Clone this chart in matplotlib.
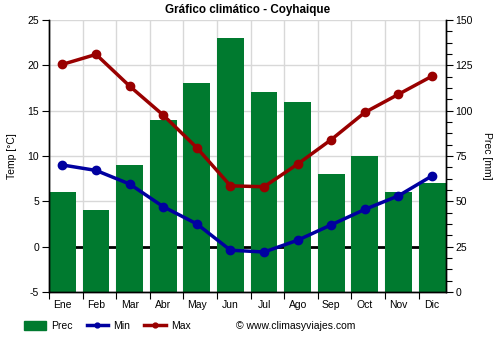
import numpy as np
import matplotlib.pyplot as plt
from matplotlib.ticker import AutoMinorLocator, FixedLocator, NullFormatter
from matplotlib.lines import Line2D
from matplotlib.patches import Patch

plt.rcParams['font.family'] = ['Liberation Sans', 'DejaVu Sans']
plt.rcParams['axes.unicode_minus'] = False

# Datos climáticos de Coyhaique
meses = ['Ene', 'Feb', 'Mar', 'Abr', 'May', 'Jun', 'Jul', 'Ago', 'Sep', 'Oct', 'Nov', 'Dic']
prec = [55, 45, 70, 95, 115, 140, 110, 105, 65, 75, 55, 60]
t_min = [9.0, 8.4, 6.9, 4.4, 2.5, -0.4, -0.6, 0.7, 2.4, 4.1, 5.6, 7.8]
t_max = [20.1, 21.2, 17.7, 14.5, 10.9, 6.7, 6.6, 9.1, 11.8, 14.8, 16.8, 18.8]

verde = '#007a2f'
azul = '#0000a0'
rojo = '#990000'

fig = plt.figure(figsize=(5, 3.5), dpi=100)
ax = fig.add_axes([0.098, 0.166, 0.793, 0.777])
ax2 = ax.twinx()

x = np.arange(len(meses))
centros = x + 0.4

# Eje izquierdo: temperatura (líneas) ; eje derecho: precipitación (barras)
ax2.set_zorder(1)
ax.set_zorder(2)
ax.patch.set_visible(False)

ax2.bar(x, prec, width=0.8, align='edge', color=verde, zorder=2)
ax2.set_ylim(0, 150)
ax2.set_yticks(np.arange(0, 151, 25))
ax2.yaxis.set_minor_locator(AutoMinorLocator(4))
ax2.set_ylabel('Prec [mm]', rotation=270, labelpad=14, fontsize=7.5)
ax2.tick_params(axis='y', labelsize=7.5, length=5, width=0.8, pad=2)
ax2.tick_params(axis='y', which='minor', length=4, width=0.8)

# grilla y línea de cero detrás de las barras
ax2.set_xlim(0, 11.8)
for t in np.arange(-5, 26, 5):
    ax2.axhline((t + 5) * 5, color='#d8d8d8', lw=1, zorder=0)
for xi in x:
    ax2.axvline(xi, color='#d8d8d8', lw=1, zorder=0)
ax2.axhline(25, color='black', lw=2, zorder=1)

ax.plot(centros, t_min, color=azul, lw=2.5, marker='o', ms=6, zorder=3)
ax.plot(centros, t_max, color=rojo, lw=2.5, marker='o', ms=6, zorder=3)
ax.set_ylim(-5, 25)
ax.set_yticks(np.arange(-5, 26, 5))
ax.set_xlim(0, 11.8)
ax.set_ylabel('Temp [°C]', fontsize=7.5, labelpad=8)
ax.tick_params(axis='y', labelsize=7.5, length=5, width=0.8, pad=2)

# marcas en los límites de cada mes, etiquetas centradas en la barra
ax.xaxis.set_major_locator(FixedLocator(x))
ax.xaxis.set_major_formatter(NullFormatter())
ax.xaxis.set_minor_locator(FixedLocator(centros))
ax.set_xticklabels(meses, minor=True)
ax.tick_params(axis='x', which='major', length=5, width=0.8)
ax.tick_params(axis='x', which='minor', length=0, labelsize=7.5, pad=6)

for a in (ax, ax2):
    a.spines['top'].set_visible(False)
    for s in ('left', 'right', 'bottom'):
        a.spines[s].set_linewidth(1)
ax2.xaxis.set_visible(False)

ax.set_title('Gráfico climático - Coyhaique', fontsize=8.4, fontweight='bold', pad=5)

handles = [
    Patch(color=verde, label='Prec'),
    Line2D([], [], color=azul, lw=2.5, marker='o', ms=3.5, label='Min'),
    Line2D([], [], color=rojo, lw=2.5, marker='o', ms=3.5, label='Max'),
]
fig.legend(handles=handles, loc='center left', bbox_to_anchor=(0.03, 0.068), ncol=3,
           frameon=False, fontsize=7.5, handlelength=2.1, handleheight=0.9,
           columnspacing=1.3, handletextpad=0.5)
fig.text(0.472, 0.068, '© www.climasyviajes.com', fontsize=7.5, va='center')

fig.savefig('out.png', dpi=100)
